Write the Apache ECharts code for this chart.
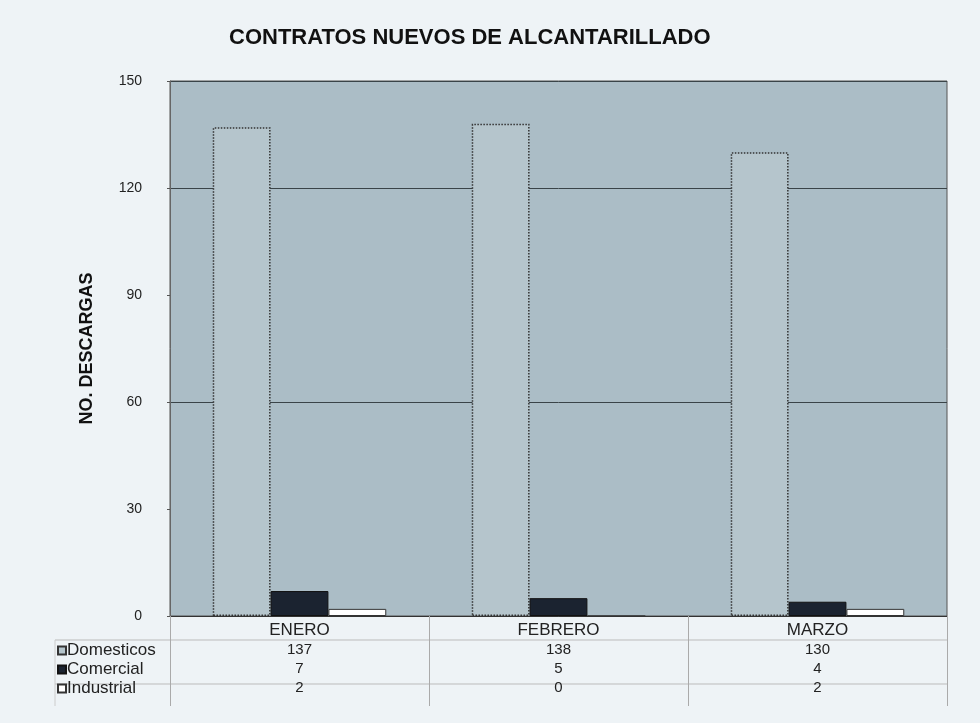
<!DOCTYPE html>
<html>
<head>
<meta charset="utf-8">
<script src="https://cdn.jsdelivr.net/npm/echarts@6/dist/echarts.min.js"></script>
<style>
html,body{margin:0;padding:0;background:#eef3f6;}
#c{width:980px;height:723px;}
</style>
</head>
<body>
<div id="c"></div>
<script>
const categories = ['ENERO', 'FEBRERO', 'MARZO'];
const seriesNames = ['Domesticos', 'Comercial', 'Industrial'];
const domesticos = [137, 138, 130];
const comercial = [7, 5, 4];
const industrial = [2, 0, 2];
const yTicks = [0, 30, 60, 90, 120, 150];

const values = [domesticos, comercial, industrial];
const chart = echarts.init(document.getElementById('c'));
const font = '"Liberation Sans", Arial, sans-serif';

chart.setOption({
  backgroundColor: '#eef3f6',
  animation: false,
  title: {
    text: 'CONTRATOS NUEVOS DE ALCANTARILLADO',
    left: 224, top: 22,
    textStyle: {fontFamily: font, fontSize: 22, fontWeight: 'bold', color: '#111'}
  },
  legend: {
    orient: 'vertical', left: 52, top: 636,
    itemWidth: 8, itemHeight: 8, itemGap: 0,
    icon: 'rect',
    data: seriesNames,
    textStyle: {fontFamily: font, fontSize: 17, color: '#222', lineHeight: 19, padding: [0, 0, 0, -4]}
  },
  grid: {
    left: 170, right: 33, top: 81, bottom: 107,
    show: true, backgroundColor: '#abbdc6', borderColor: '#555', borderWidth: 1
  },
  xAxis: {
    type: 'category', data: categories,
    axisLine: {show: true, lineStyle: {color: '#333', width: 1}},
    axisTick: {show: true, length: 90, lineStyle: {color: '#aaa'}},
    axisLabel: {
      margin: 5, fontFamily: font, color: '#222',
      formatter: (v, i) => ['{c|' + v + '}'].concat(values.map(a => '{n|' + a[i] + '}')).join('\n'),
      rich: {
        c: {fontFamily: font, fontSize: 17, lineHeight: 19, color: '#222'},
        n: {fontFamily: font, fontSize: 15, lineHeight: 19, color: '#222'}
      }
    },
    splitLine: {show: false}
  },
  yAxis: [{
    type: 'value', min: yTicks[0], max: yTicks[yTicks.length - 1], interval: 30,
    name: 'NO. DESCARGAS', nameLocation: 'middle', nameGap: 74, nameRotate: 90,
    nameTextStyle: {fontFamily: font, fontSize: 18, fontWeight: 'bold', color: '#111'},
    axisLine: {show: true, lineStyle: {color: '#666'}},
    axisTick: {show: true, length: 3, lineStyle: {color: '#555'}},
    axisLabel: {fontFamily: font, fontSize: 14, color: '#222', margin: 28},
    splitLine: {show: false}
  }, {
    type: 'value', min: 0, max: 150, interval: 60, position: 'left',
    axisLine: {show: false}, axisTick: {show: false}, axisLabel: {show: false},
    splitLine: {show: true, lineStyle: {color: '#3a4448', width: 1}}
  }],
  series: [{
    name: seriesNames[0], type: 'bar', data: domesticos,
    barGap: '0%', barCategoryGap: '33%',
    itemStyle: {color: '#b5c5cc', borderColor: '#333', borderWidth: 1.5, borderType: 'dotted'}
  }, {
    name: seriesNames[1], type: 'bar', data: comercial,
    itemStyle: {color: '#1b2330', borderColor: '#111', borderWidth: 1}
  }, {
    name: seriesNames[2], type: 'bar', data: industrial,
    itemStyle: {color: '#ffffff', borderColor: '#333', borderWidth: 1}
  }],
  graphic: [
    {type: 'line', shape: {x1: 55, y1: 640, x2: 947, y2: 640}, style: {stroke: '#bbb', lineWidth: 1}},
    {type: 'line', shape: {x1: 55, y1: 684, x2: 947, y2: 684}, style: {stroke: '#bbb', lineWidth: 1}},
    {type: 'line', shape: {x1: 55, y1: 640, x2: 55, y2: 706}, style: {stroke: '#ccc', lineWidth: 1}}
  ]
});
</script>
</body>
</html>
